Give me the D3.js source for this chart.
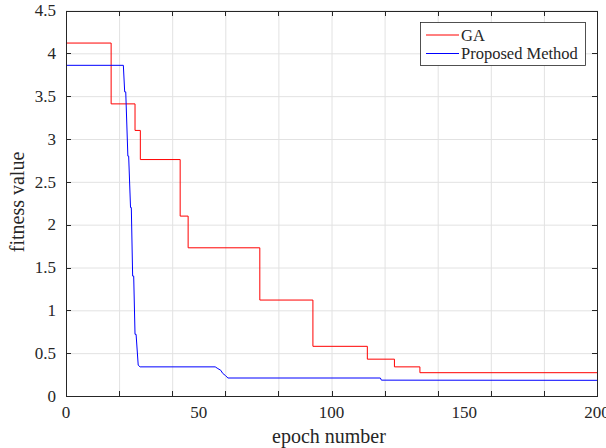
<!DOCTYPE html>
<html>
<head>
<meta charset="utf-8">
<script src="https://cdn.jsdelivr.net/npm/d3@7"></script>
<style>
  body { margin: 0; background: #fff; }
  svg { display: block; }
  svg text { font-family: 'Liberation Serif', 'DejaVu Serif', serif; fill: #262626; }
</style>
</head>
<body>
<svg width="606" height="448"></svg>
<script>
// GA curve: change points (step after)
const gaEpoch = [0, 17, 26, 28, 43, 46, 73, 93, 113.5, 123.7, 133.3, 200];
const gaFitness = [4.12, 3.41, 3.10, 2.76, 2.10, 1.73, 1.12, 0.58, 0.43, 0.34, 0.272, 0.272];

// Proposed method curve: read point by point (linear)
const pmEpoch = [0, 21.6, 22.1, 22.5, 23.3, 23.6, 24.3, 24.6, 25.1, 25.5, 26.0, 26.4, 27.2, 27.9,
  56.2, 57.2, 58.3, 59.0, 60.0, 61.0, 118.4, 118.8, 200];
const pmFitness = [3.86, 3.86, 3.55, 3.55, 2.80, 2.80, 2.20, 2.20, 1.40, 1.40, 0.72, 0.72, 0.36, 0.34,
  0.34, 0.32, 0.30, 0.265, 0.24, 0.21, 0.21, 0.185, 0.183];

const xTicks = [0, 20, 40, 60, 80, 100, 120, 140, 160, 180, 200];
const xLabels = [0, 50, 100, 150, 200];
const yTicks = [0, 0.5, 1, 1.5, 2, 2.5, 3, 3.5, 4, 4.5];

const serif = "'Liberation Serif', 'DejaVu Serif', serif";
const svg = d3.select('svg');
const mLeft = 66, mRight = 597, mTop = 10.5, mBottom = 396;

const x = d3.scaleLinear().domain([0, 200]).range([mLeft, mRight]);
const y = d3.scaleLinear().domain([0, 4.5]).range([mBottom, mTop]);

// grid
svg.append('g')
  .attr('transform', `translate(0,${mBottom})`)
  .call(d3.axisBottom(x).tickValues(xTicks).tickSize(-(mBottom - mTop)).tickFormat(''))
  .call(g => g.select('.domain').remove())
  .call(g => g.selectAll('line').attr('stroke', '#e2e2e2'));
svg.append('g')
  .attr('transform', `translate(${mLeft},0)`)
  .call(d3.axisLeft(y).tickValues(yTicks).tickSize(-(mRight - mLeft)).tickFormat(''))
  .call(g => g.select('.domain').remove())
  .call(g => g.selectAll('line').attr('stroke', '#e2e2e2'));

// lines
const gaLine = d3.line().curve(d3.curveStepAfter)
  .x((d, i) => x(gaEpoch[i])).y(d => y(d));
svg.append('path').datum(gaFitness)
  .attr('fill', 'none').attr('stroke', '#ff0000').attr('stroke-width', 1)
  .attr('d', gaLine);

const pmLine = d3.line().x((d, i) => x(pmEpoch[i])).y(d => y(d));
svg.append('path').datum(pmFitness)
  .attr('fill', 'none').attr('stroke', '#0000ff').attr('stroke-width', 1)
  .attr('d', pmLine);

// axes box with inward ticks
function styleAxis(g) {
  g.selectAll('.domain').attr('stroke', '#262626');
  g.selectAll('.tick line').attr('stroke', '#262626');
  g.attr('shape-rendering', 'crispEdges');
}
svg.append('g').attr('transform', `translate(0,${mBottom})`)
  .call(d3.axisBottom(x).tickValues(xTicks).tickSize(-5).tickSizeOuter(0).tickFormat(''))
  .call(styleAxis);
svg.append('g').attr('transform', `translate(0,${mTop})`)
  .call(d3.axisTop(x).tickValues(xTicks).tickSize(-5).tickSizeOuter(0).tickFormat(''))
  .call(styleAxis);
svg.append('g').attr('transform', `translate(${mLeft},0)`)
  .call(d3.axisLeft(y).tickValues(yTicks).tickSize(-5).tickSizeOuter(0).tickFormat(''))
  .call(styleAxis);
svg.append('g').attr('transform', `translate(${mRight},0)`)
  .call(d3.axisRight(y).tickValues(yTicks).tickSize(-5).tickSizeOuter(0).tickFormat(''))
  .call(styleAxis);

// tick labels
svg.append('g').selectAll('text').data(xLabels).join('text')
  .attr('x', d => x(d)).attr('y', mBottom + 22)
  .attr('text-anchor', 'middle').attr('font-size', 17).attr('font-family', serif)
  .text(d => d);
svg.append('g').selectAll('text').data(yTicks).join('text')
  .attr('x', mLeft - 10).attr('y', d => y(d)).attr('dy', '0.34em')
  .attr('text-anchor', 'end').attr('font-size', 17).attr('font-family', serif)
  .text(d => d);

// axis titles
svg.append('text').attr('x', 329).attr('y', 443)
  .attr('text-anchor', 'middle').attr('font-size', 20).attr('font-family', serif)
  .text('epoch number');
svg.append('text')
  .attr('transform', 'translate(24,202) rotate(-90)')
  .attr('text-anchor', 'middle').attr('font-size', 20).attr('font-family', serif)
  .text('fitness value');

// legend
const legend = svg.append('g');
legend.append('rect').attr('x', 420.5).attr('y', 22.5).attr('width', 165).attr('height', 43)
  .attr('fill', '#fff').attr('stroke', '#262626').attr('stroke-width', 0.8);
const legendItems = [
  { name: 'GA', color: '#ff0000' },
  { name: 'Proposed Method', color: '#0000ff' }
];
legendItems.forEach((d, i) => {
  const cy = 35 + i * 18.5;
  legend.append('line').attr('x1', 426).attr('x2', 459).attr('y1', cy).attr('y2', cy)
    .attr('stroke', d.color).attr('stroke-width', 1);
  legend.append('text').attr('x', 461).attr('y', cy).attr('dy', '0.34em')
    .attr('font-size', 16.5).attr('font-family', serif).text(d.name);
});
</script>
</body>
</html>
